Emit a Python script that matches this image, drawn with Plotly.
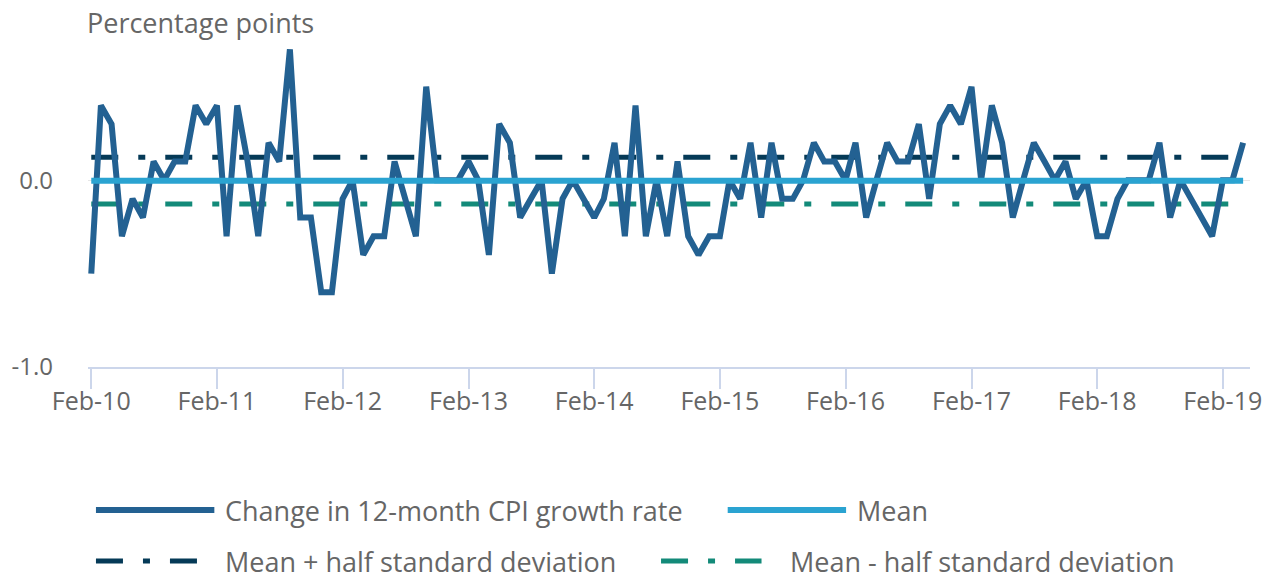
import plotly.graph_objects as go
import pandas as pd

# ---- data ----
start_month = "2010-02-01"
cpi_change = [
    -0.5, 0.4, 0.3, -0.3, -0.1, -0.2, 0.1, 0.0, 0.1, 0.1, 0.4, 0.3,
    0.4, -0.3, 0.4, 0.1, -0.3, 0.2, 0.1, 0.7, -0.2, -0.2, -0.6, -0.6,
    -0.1, 0.0, -0.4, -0.3, -0.3, 0.1, -0.1, -0.3, 0.5, 0.0, 0.0, 0.0,
    0.1, 0.0, -0.4, 0.3, 0.2, -0.2, -0.1, 0.0, -0.5, -0.1, 0.0, -0.1,
    -0.2, -0.1, 0.2, -0.3, 0.4, -0.3, 0.0, -0.3, 0.1, -0.3, -0.4, -0.3,
    -0.3, 0.0, -0.1, 0.2, -0.2, 0.2, -0.1, -0.1, 0.0, 0.2, 0.1, 0.1,
    0.0, 0.2, -0.2, 0.0, 0.2, 0.1, 0.1, 0.3, -0.1, 0.3, 0.4, 0.3,
    0.5, 0.0, 0.4, 0.2, -0.2, 0.0, 0.2, 0.1, 0.0, 0.1, -0.1, 0.0,
    -0.3, -0.3, -0.1, 0.0, 0.0, 0.0, 0.2, -0.2, 0.0, -0.1, -0.2, -0.3,
    0.0, 0.0, 0.2,
]
mean_value = -0.003
mean_plus_half_sd = 0.122
mean_minus_half_sd = -0.128
tick_dates = ["2010-02-01", "2011-02-01", "2012-02-01", "2013-02-01", "2014-02-01",
              "2015-02-01", "2016-02-01", "2017-02-01", "2018-02-01", "2019-02-01"]
tick_labels = ["Feb-10", "Feb-11", "Feb-12", "Feb-13", "Feb-14",
               "Feb-15", "Feb-16", "Feb-17", "Feb-18", "Feb-19"]
series_names = ["Change in 12-month CPI growth rate", "Mean",
                "Mean + half standard deviation", "Mean - half standard deviation"]

dates = pd.date_range(start_month, periods=len(cpi_change), freq="MS")
ends = [dates[0], dates[-1]]

C_MAIN = "#236192"
C_MEAN = "#2aa3d1"
C_PLUS = "#053a57"
C_MINUS = "#138a79"
DASH = "27px,20px,7px,20px"
FONT = "Open Sans"
GREY = "#666666"

fig = go.Figure()
fig.add_trace(go.Scatter(x=ends, y=[mean_plus_half_sd] * 2, mode="lines",
                         line=dict(color=C_PLUS, width=5, dash=DASH), name=series_names[2]))
fig.add_trace(go.Scatter(x=ends, y=[mean_minus_half_sd] * 2, mode="lines",
                         line=dict(color=C_MINUS, width=5, dash=DASH), name=series_names[3]))
fig.add_trace(go.Scatter(x=dates, y=cpi_change, mode="lines",
                         line=dict(color=C_MAIN, width=6), name=series_names[0]))
fig.add_trace(go.Scatter(x=ends, y=[mean_value] * 2, mode="lines",
                         line=dict(color=C_MEAN, width=6), name=series_names[1]))

# plot area in pixels
L, R, T, B = 85, 1253, 40, 367
W, H = 1274, 575

def px(x):
    return (x - L) / (R - L)

def py(y):
    return (B - y) / (B - T)

shapes = []
annotations = []

def legend_item(x0, x1, xt, y, color, label, dash=None, width=6):
    line = dict(color=color, width=width)
    if dash:
        line["dash"] = dash
    shapes.append(dict(type="line", xref="paper", yref="paper",
                       x0=px(x0), x1=px(x1), y0=py(y), y1=py(y), line=line))
    annotations.append(dict(xref="paper", yref="paper", x=px(xt), y=py(y),
                            xanchor="left", yanchor="middle", showarrow=False,
                            text=label, font=dict(family=FONT, size=27, color=GREY)))

legend_item(93, 212, 221, 510, C_MAIN, series_names[0])
legend_item(728, 847, 856, 510, C_MEAN, series_names[1])
legend_item(93, 195, 221, 561, C_PLUS, series_names[2], DASH, 5)
legend_item(661, 762, 789, 561, C_MINUS, series_names[3], DASH, 5)

annotations.append(dict(xref="paper", yref="paper", x=px(82), y=py(22),
                        xanchor="left", yanchor="middle", showarrow=False,
                        text="Percentage points", font=dict(family=FONT, size=27, color=GREY)))

fig.update_layout(
    width=W, height=H,
    margin=dict(l=L, r=W - R, t=T, b=H - B, pad=0),
    paper_bgcolor="white", plot_bgcolor="white",
    showlegend=False,
    font=dict(family=FONT, color=GREY),
    shapes=shapes, annotations=annotations,
    xaxis=dict(
        type="date",
        range=["2010-01-22 12:00", "2019-04-21"],
        tickvals=tick_dates, ticktext=tick_labels,
        showgrid=False, zeroline=False,
        showline=True, linecolor="#ccd6eb", linewidth=2,
        ticks="outside", ticklen=20, tickwidth=2, tickcolor="#ccd6eb",
        ticklabelstandoff=-9,
        tickfont=dict(family=FONT, size=25, color=GREY),
    ),
    yaxis=dict(
        range=[-1, 0.75],
        tickvals=[-1, 0], ticktext=["-1.0", "0.0"],
        showgrid=True, gridcolor="#e6e6e6", gridwidth=1,
        zeroline=False, showline=False, ticks="",
        ticklabelstandoff=34,
        tickfont=dict(family=FONT, size=24, color=GREY),
    ),
)

fig.write_html("out.html", config={"displayModeBar": False},
               post_script="document.body.style.margin='0';")
